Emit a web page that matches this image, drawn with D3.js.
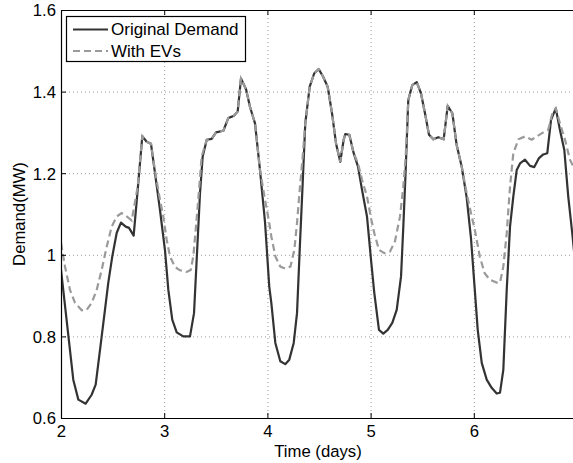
<!DOCTYPE html>
<html>
<head>
<meta charset="utf-8">
<script src="https://cdn.jsdelivr.net/npm/d3@7/dist/d3.min.js"></script>
<style>
  html, body { margin: 0; padding: 0; background: #fff; overflow: hidden; }
  svg { display: block; }
  text { font-family: "Liberation Sans", Arial, Helvetica, sans-serif; fill: #000; }
</style>
</head>
<body>
<svg id="chart" width="573" height="463"></svg>
<script>
// Time axis (days) and demand (MW) for the original load
const demandTime = [2.000, 2.119, 2.168, 2.239, 2.297, 2.336, 2.378, 2.426, 2.458, 2.497, 2.540, 2.581, 2.627, 2.659, 2.704, 2.743, 2.788, 2.830, 2.872, 2.911, 2.959, 3.008, 3.040, 3.078, 3.121, 3.185, 3.250, 3.289, 3.321, 3.347, 3.373, 3.412, 3.460, 3.502, 3.573, 3.621, 3.676, 3.712, 3.744, 3.793, 3.831, 3.880, 3.928, 3.977, 4.018, 4.038, 4.077, 4.125, 4.173, 4.212, 4.255, 4.287, 4.313, 4.342, 4.367, 4.410, 4.454, 4.497, 4.539, 4.584, 4.626, 4.665, 4.706, 4.739, 4.755, 4.794, 4.836, 4.878, 4.917, 4.965, 5.007, 5.036, 5.081, 5.123, 5.166, 5.210, 5.253, 5.295, 5.317, 5.340, 5.365, 5.404, 5.447, 5.488, 5.527, 5.566, 5.608, 5.656, 5.708, 5.747, 5.792, 5.834, 5.883, 5.931, 5.973, 6.005, 6.038, 6.077, 6.125, 6.173, 6.222, 6.254, 6.286, 6.319, 6.351, 6.383, 6.416, 6.448, 6.496, 6.545, 6.586, 6.632, 6.673, 6.712, 6.748, 6.794, 6.835, 6.877, 6.915, 6.954, 6.990];
const demandMW = [0.963, 0.694, 0.645, 0.635, 0.657, 0.682, 0.767, 0.865, 0.931, 0.996, 1.054, 1.079, 1.069, 1.066, 1.047, 1.159, 1.291, 1.277, 1.272, 1.200, 1.110, 1.010, 0.914, 0.841, 0.810, 0.800, 0.800, 0.857, 1.020, 1.151, 1.241, 1.282, 1.284, 1.300, 1.304, 1.335, 1.341, 1.351, 1.432, 1.406, 1.363, 1.322, 1.208, 1.080, 0.922, 0.882, 0.784, 0.739, 0.732, 0.743, 0.784, 0.857, 1.012, 1.176, 1.322, 1.412, 1.445, 1.455, 1.437, 1.412, 1.347, 1.273, 1.228, 1.282, 1.296, 1.294, 1.249, 1.216, 1.159, 1.094, 0.980, 0.906, 0.816, 0.807, 0.816, 0.833, 0.865, 0.947, 1.069, 1.208, 1.379, 1.416, 1.423, 1.396, 1.347, 1.294, 1.283, 1.288, 1.283, 1.365, 1.347, 1.269, 1.216, 1.140, 1.040, 0.930, 0.816, 0.735, 0.694, 0.674, 0.660, 0.662, 0.718, 0.914, 1.069, 1.143, 1.208, 1.224, 1.233, 1.218, 1.215, 1.237, 1.246, 1.249, 1.330, 1.359, 1.306, 1.257, 1.143, 1.053, 0.960];

// Time axis (days) and demand (MW) including EV charging
const evTime = [2.000, 2.039, 2.087, 2.136, 2.201, 2.249, 2.297, 2.346, 2.394, 2.443, 2.491, 2.540, 2.588, 2.637, 2.685, 2.743, 2.788, 2.830, 2.872, 2.911, 2.959, 2.991, 3.024, 3.056, 3.105, 3.153, 3.218, 3.257, 3.282, 3.308, 3.330, 3.363, 3.412, 3.460, 3.502, 3.573, 3.621, 3.676, 3.712, 3.744, 3.793, 3.831, 3.880, 3.928, 3.977, 4.018, 4.038, 4.077, 4.125, 4.173, 4.223, 4.261, 4.287, 4.313, 4.342, 4.367, 4.410, 4.454, 4.497, 4.539, 4.584, 4.626, 4.665, 4.706, 4.739, 4.755, 4.794, 4.836, 4.878, 4.917, 4.965, 5.007, 5.036, 5.081, 5.133, 5.188, 5.236, 5.285, 5.317, 5.340, 5.365, 5.404, 5.447, 5.488, 5.527, 5.566, 5.608, 5.656, 5.708, 5.747, 5.792, 5.834, 5.883, 5.931, 5.973, 6.010, 6.058, 6.105, 6.155, 6.222, 6.254, 6.286, 6.319, 6.351, 6.383, 6.432, 6.496, 6.561, 6.609, 6.673, 6.721, 6.761, 6.794, 6.835, 6.884, 6.932, 6.965, 6.990];
const evMW = [1.029, 0.971, 0.914, 0.882, 0.864, 0.865, 0.882, 0.914, 0.963, 1.020, 1.069, 1.094, 1.102, 1.094, 1.084, 1.167, 1.291, 1.277, 1.272, 1.205, 1.135, 1.094, 1.037, 0.996, 0.970, 0.962, 0.958, 0.963, 0.996, 1.069, 1.135, 1.241, 1.282, 1.284, 1.300, 1.304, 1.335, 1.341, 1.351, 1.432, 1.406, 1.363, 1.322, 1.208, 1.135, 1.078, 1.045, 0.996, 0.971, 0.966, 0.971, 1.012, 1.078, 1.159, 1.240, 1.322, 1.412, 1.445, 1.455, 1.437, 1.412, 1.347, 1.273, 1.228, 1.282, 1.296, 1.294, 1.249, 1.224, 1.184, 1.143, 1.086, 1.053, 1.012, 1.004, 1.008, 1.033, 1.094, 1.167, 1.240, 1.379, 1.416, 1.423, 1.396, 1.347, 1.294, 1.283, 1.288, 1.283, 1.365, 1.347, 1.269, 1.216, 1.151, 1.102, 1.061, 0.996, 0.955, 0.939, 0.932, 0.932, 0.971, 1.053, 1.167, 1.249, 1.283, 1.290, 1.282, 1.290, 1.300, 1.306, 1.347, 1.359, 1.322, 1.282, 1.233, 1.216, 1.190];

const xTicks = [2, 3, 4, 5, 6];
const yTicks = [0.6, 0.8, 1.0, 1.2, 1.4, 1.6];
const yTickLabels = ["0.6", "0.8", "1", "1.2", "1.4", "1.6"];
const seriesNames = ["Original Demand", "With EVs"];

const svg = d3.select("#chart");
const plotLeft = 61, plotRight = 577, plotTop = 10, plotBottom = 418;

const x = d3.scaleLinear().domain([2, 7]).range([plotLeft, plotRight]);
const y = d3.scaleLinear().domain([0.6, 1.6]).range([plotBottom, plotTop]);

// Dotted grid
const grid = svg.append("g").attr("stroke", "#9a9a9a").attr("stroke-width", 1)
  .attr("stroke-dasharray", "1,3");
grid.selectAll("line.v").data(xTicks.slice(1)).join("line").attr("class", "v")
  .attr("x1", d => x(d) + 0.5).attr("x2", d => x(d) + 0.5)
  .attr("y1", plotTop).attr("y2", plotBottom);
grid.selectAll("line.h").data(yTicks.slice(1, -1)).join("line").attr("class", "h")
  .attr("x1", plotLeft).attr("x2", plotRight)
  .attr("y1", d => y(d) + 0.5).attr("y2", d => y(d) + 0.5);

// Series lines
svg.append("clipPath").attr("id", "plotClip").append("rect")
  .attr("x", plotLeft).attr("y", plotTop)
  .attr("width", plotRight - plotLeft).attr("height", plotBottom - plotTop);

const lineGen = d3.line().x(d => x(d[0])).y(d => y(d[1]));
const demandPts = demandTime.map((t, i) => [t, demandMW[i]]);
const evPts = evTime.map((t, i) => [t, evMW[i]]);

const plot = svg.append("g").attr("clip-path", "url(#plotClip)");
plot.append("path").datum(demandPts).attr("d", lineGen)
  .attr("fill", "none").attr("stroke", "#333").attr("stroke-width", 2.2)
  .attr("stroke-linejoin", "round");
plot.append("path").datum(evPts).attr("d", lineGen)
  .attr("fill", "none").attr("stroke", "#9a9a9a").attr("stroke-width", 2.2)
  .attr("stroke-dasharray", "7,4");

// Axes (ticks pointing inward, box style)
const fontSize = 16.7;
const xAxisB = d3.axisBottom(x).tickValues(xTicks).tickSizeInner(-5).tickSizeOuter(0)
  .tickPadding(10).tickFormat(d3.format("d"));
const xAxisT = d3.axisTop(x).tickValues(xTicks).tickSizeInner(-5).tickSizeOuter(0).tickFormat("");
const yAxisL = d3.axisLeft(y).tickValues(yTicks).tickSizeInner(-5).tickSizeOuter(0)
  .tickPadding(10).tickFormat((d, i) => yTickLabels[i]);

const gxb = svg.append("g").attr("transform", `translate(0,${plotBottom})`).call(xAxisB);
const gxt = svg.append("g").attr("transform", `translate(0,${plotTop})`).call(xAxisT);
const gyl = svg.append("g").attr("transform", `translate(${plotLeft},0)`).call(yAxisL);

[gxb, gxt, gyl].forEach(g => {
  g.select(".domain").attr("stroke", "#000").attr("stroke-width", 1.2);
  g.selectAll(".tick line").attr("stroke", "#000");
  g.selectAll(".tick text").attr("font-size", fontSize)
    .attr("font-family", "Liberation Sans, Arial, sans-serif").attr("fill", "#000");
});
gxb.selectAll(".tick text").attr("y", 6).attr("dy", "0.75em");
gyl.selectAll(".tick text").attr("dy", "0.35em").attr("x", -5);

// Axis titles
svg.append("text").attr("x", 318).attr("y", 457).attr("text-anchor", "middle")
  .attr("font-size", fontSize).text("Time (days)");
svg.append("text").attr("transform", "translate(25,214) rotate(-90)")
  .attr("text-anchor", "middle").attr("font-size", fontSize).text("Demand(MW)");

// Legend
const lg = svg.append("g");
lg.append("rect").attr("x", 66.5).attr("y", 16.5).attr("width", 179).attr("height", 45)
  .attr("fill", "#fff").attr("stroke", "#000").attr("stroke-width", 1.2);
const legendStyles = [
  { stroke: "#333", dash: null },
  { stroke: "#9a9a9a", dash: "7,4" }
];
seriesNames.forEach((name, i) => {
  const ly = 29.5 + i * 21.5;
  lg.append("line").attr("x1", 73).attr("x2", 108).attr("y1", ly).attr("y2", ly)
    .attr("stroke", legendStyles[i].stroke).attr("stroke-width", 2.2)
    .attr("stroke-dasharray", legendStyles[i].dash);
  lg.append("text").attr("x", 111).attr("y", ly).attr("dy", "0.35em")
    .attr("font-size", 17).text(name);
});
</script>
</body>
</html>
